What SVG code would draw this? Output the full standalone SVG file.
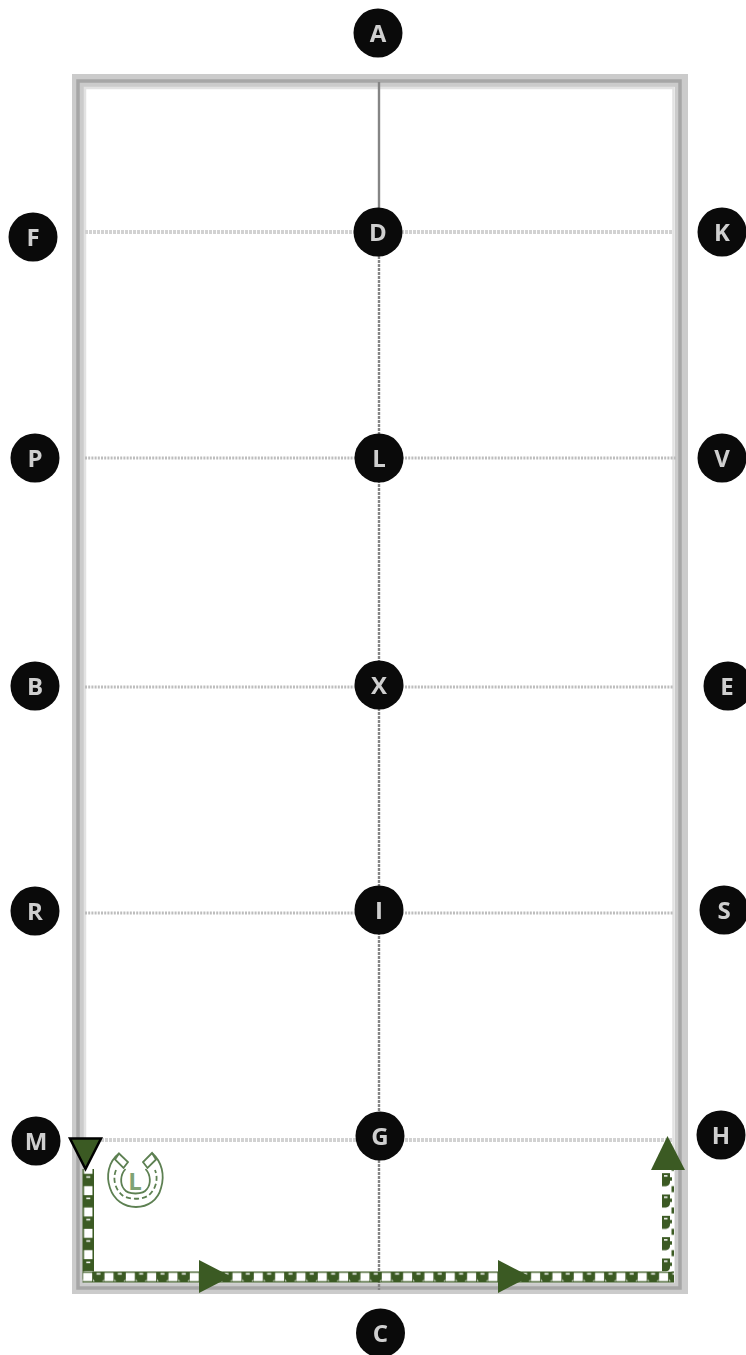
<svg xmlns="http://www.w3.org/2000/svg" width="746" height="1355" viewBox="0 0 746 1355">
<style>
.n{fill:#0a0a0a}
.t{font-family:"Open Sans","Liberation Sans",sans-serif;font-weight:700;font-size:24px;fill:#cfcfcf;text-anchor:middle;filter:url(#soft)}
.h{fill:none;stroke:#bdbdbd;stroke-width:3;stroke-dasharray:2 1.2}
.hl{fill:none;stroke:#d2d2d2;stroke-width:4;stroke-dasharray:3 1}
.v{fill:none;stroke:#858585;stroke-width:2.400}
.a{fill:#3b5a23}
.i{fill:none;stroke:#5d8052;stroke-width:1.800}
</style>
<defs>
<filter id="soft" x="-20%" y="-20%" width="140%" height="140%"><feGaussianBlur stdDeviation="0.6"/></filter>
<pattern id="ph" patternUnits="userSpaceOnUse" x="93" y="1271.500" width="21.33" height="11">
<rect width="21.33" height="11" fill="#3b5a23"/>
<rect x="11.500" y="1.300" width="9" height="8.400" fill="#fff"/>
<rect x="3.500" y="1.600" width="4" height="1.500" fill="#fff"/>
<path d="M0 9.700V7.500Q.6 9.200 2 9.700ZM11 9.700V7.500Q10.400 9.200 9 9.700Z" fill="#fff"/>
</pattern>
<pattern id="pv" patternUnits="userSpaceOnUse" x="82.500" y="1196" width="11.500" height="21.33">
<rect width="11.500" height="21.33" fill="#3b5a23"/>
<rect x="1.500" y="11.500" width="8.500" height="9" fill="#fff"/>
<rect x="3.800" y="1.600" width="4" height="1.500" fill="#fff"/>
</pattern>
<pattern id="pr" patternUnits="userSpaceOnUse" x="662" y="1194.500" width="12" height="21.33">
<rect width="12" height="21.33" fill="#fff"/>
<path d="M0 0H8V4H10V7.500H8V9C8 11.500 6 13 4 13H0Z" fill="#3b5a23"/>
<rect x="2" y="2" width="3.500" height="1.500" fill="#fff"/>
<rect x="9.500" y="13" width="2.500" height="6" fill="#3b5a23"/>
<rect x="8" y="-1" width="4" height="1" fill="#3b5a23"/>
</pattern>
</defs>
<rect width="746" height="1355" fill="#fff"/>
<g id="frame" filter="url(#soft)" fill="none">
<rect x="78.500" y="80.500" width="603" height="1207" stroke="#cbcbcb" stroke-width="13"/>
<rect x="78" y="81" width="602" height="1207" stroke="#a6a6a6" stroke-width="3.500"/>
<rect x="85" y="88" width="588.500" height="1194" stroke="#e2e2e2" stroke-width="2.500"/>
</g>
<g id="connectors" filter="url(#soft)">
<path class="v" d="M379 82V208"/>
<path class="v" stroke-dasharray="3 1" d="M379 256V1290"/>
<path class="hl" d="M85 232H673M85 1140H673"/>
<path class="h" d="M85 458H676M85 687H673M85 913H673"/>
</g>
<g id="route">
<rect x="82.500" y="1271.500" width="591.500" height="11" fill="url(#ph)"/>
<rect x="82.500" y="1169" width="11.500" height="102.500" fill="url(#pv)"/>
<rect x="662" y="1168" width="12" height="103.500" fill="url(#pr)"/>
<path class="a" d="M199 1260L231 1276.500L199 1293Z"/>
<path class="a" d="M498 1260L530 1276.500L498 1293Z"/>
<path class="a" d="M667.500 1136L685 1170H651Z"/>
<path class="a" stroke="#000" stroke-width="2.500" d="M70 1138.500H101L85.500 1169Z"/>
</g>
<g id="horseshoe">
<path class="i" d="M119 1153.500C108 1162 106 1176 110 1188C114 1200 124 1207 136 1207C148 1207 158 1200 161 1188C165 1175 162 1162 152 1153"/>
<path class="i" d="M119 1153.500L128 1162L123.500 1168L115 1159.500ZM152 1153L143 1162L147.500 1168L156 1159.500Z"/>
<path class="i" stroke-dasharray="5 3" stroke-width="1.300" d="M116 1170C112 1180 116 1190 122 1195C128 1200 143 1200 149 1195C155 1190 159 1180 155 1170"/>
<path class="i" d="M125.500 1169C120 1175 120 1184 124 1189C128 1195 143 1195 147 1189C151 1184 151 1175 145.500 1169"/>
<text x="135" y="1190" font-family="'Open Sans','Liberation Sans',sans-serif" font-weight="700" font-size="24" fill="#7fa374" text-anchor="middle">L</text>
</g>
<g id="node-A"><circle class="n" cx="378" cy="33" r="24.500"/><text class="t" x="378" y="41.500">A</text></g>
<g id="node-F"><circle class="n" cx="33" cy="237" r="24.500"/><text class="t" x="33" y="245.500">F</text></g>
<g id="node-D"><circle class="n" cx="378" cy="232" r="24.500"/><text class="t" x="378" y="240.500">D</text></g>
<g id="node-K"><circle class="n" cx="722" cy="232" r="24.500"/><text class="t" x="722" y="240.500">K</text></g>
<g id="node-P"><circle class="n" cx="35" cy="458" r="24.500"/><text class="t" x="35" y="466.500">P</text></g>
<g id="node-L"><circle class="n" cx="379" cy="458" r="24.500"/><text class="t" x="379" y="466.500">L</text></g>
<g id="node-V"><circle class="n" cx="722" cy="458" r="24.500"/><text class="t" x="722" y="466.500">V</text></g>
<g id="node-B"><circle class="n" cx="35" cy="686" r="24.500"/><text class="t" x="35" y="694.500">B</text></g>
<g id="node-X"><circle class="n" cx="379" cy="685" r="24.500"/><text class="t" x="379" y="693.500">X</text></g>
<g id="node-E"><circle class="n" cx="728" cy="686" r="24.500"/><text class="t" x="727" y="694.500">E</text></g>
<g id="node-R"><circle class="n" cx="35" cy="911" r="24.500"/><text class="t" x="35" y="919.500">R</text></g>
<g id="node-I"><circle class="n" cx="379" cy="910" r="24.500"/><text class="t" x="379" y="918.500">I</text></g>
<g id="node-S"><circle class="n" cx="724" cy="910" r="24.500"/><text class="t" x="724" y="918.500">S</text></g>
<g id="node-M"><circle class="n" cx="36" cy="1141" r="24.500"/><text class="t" x="36" y="1149.500">M</text></g>
<g id="node-G"><circle class="n" cx="380" cy="1136" r="24.500"/><text class="t" x="380" y="1144.500">G</text></g>
<g id="node-H"><circle class="n" cx="721" cy="1135" r="24.500"/><text class="t" x="721" y="1143.500">H</text></g>
<g id="node-C"><circle class="n" cx="380.500" cy="1333" r="24.500"/><text class="t" x="380.500" y="1341.500">C</text></g>
</svg>
